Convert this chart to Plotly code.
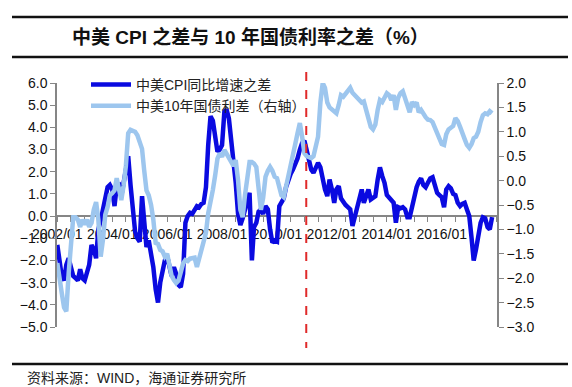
import pandas as pd
import plotly.graph_objects as go

# ---------------- data (monthly, 2002/01 - 2017/11) ----------------
start_month = "2002-01-01"

cpi_diff = (
    [-1.3, -2.0, -2.7, -2.9, -2.2, -1.9, -2.3, -2.7, -2.8, -2.9, -2.4, -2.8]      # 2002
    + [-2.9, -2.6, -2.2, -1.3, -1.5, -1.9, -0.6, -0.2, 0.3, 0.9, 1.3, 1.4]        # 2003
    + [1.2, 0.45, 1.35, 1.4, 0.9, 1.5, 2.25, 2.7, 1.4, 0.2, -0.7, -1.0]           # 2004
    + [-1.15, 0.9, -0.5, -1.4, -1.1, -1.6, -2.3, -3.3, -3.9, -3.0, -2.4, -2.0]    # 2005
    + [-1.8, -2.4, -2.7, -2.3, -2.6, -3.1, -3.2, -2.6, -0.3, 0.0, 0.15, 0.1]      # 2006
    + [0.3, 0.45, 0.4, 0.55, 0.6, 1.3, 3.2, 4.5, 4.3, 3.5, 2.9, 3.0]              # 2007
    + [3.2, 4.7, 4.8, 4.4, 3.5, 2.4, 1.5, 0.1, -0.4, -0.1, 0.3, 0.7]              # 2008
    + [1.05, -2.0, -0.5, -0.3, 0.2, 0.3, 0.1, 0.45, 0.3, -0.6, -1.2, -1.1]        # 2009
    + [-1.15, 0.45, 0.6, 0.8, 1.3, 1.7, 1.9, 2.1, 2.3, 2.6, 3.0, 3.3]             # 2010
    + [3.4, 2.9, 2.5, 2.1, 1.95, 2.2, 2.4, 2.2, 1.65, 1.2, 0.9, 1.65]             # 2011
    + [1.2, 0.6, 1.2, 1.35, 0.8, 0.6, 0.5, 0.4, 0.3, -0.45, 0.0, 0.45]           # 2012
    + [0.9, 1.2, 0.6, 1.0, 1.2, 0.75, 0.8, 0.9, 1.65, 2.2, 1.8, 1.5]              # 2013
    + [0.95, 0.85, 0.75, 0.6, -0.3, 0.4, 0.35, 0.4, 0.3, -0.05, -0.05, 0.4]       # 2014
    + [0.9, 1.3, 1.55, 1.7, 1.4, 1.3, 1.5, 1.7, 1.75, 1.35, 1.05, 0.95]           # 2015
    + [0.85, 0.4, 1.2, 1.35, 1.25, 1.0, 0.95, 0.6, 0.45, 0.55, 0.6, 0.3]          # 2016
    + [0.0, -1.0, -2.0, -1.5, -0.8, -0.3, -0.05, -0.1, -0.5, -0.6, -0.05]         # 2017
)

bond_diff = (
    [-1.69, -1.95, -2.3, -2.6, -2.68, -1.9, -1.2, -0.75, -0.75, -0.8, -0.95, -0.8]   # 2002
    + [-0.9, -0.8, -0.95, -0.87, -0.6, -0.44, -0.8, -1.56, -1.2, -0.7, -0.54, -0.3]  # 2003
    + [-0.26, -0.2, 0.05, -0.2, -0.4, -0.1, 0.3, 0.97, 1.04, 1.02, 1.0, 0.93]        # 2004
    + [0.8, 0.65, 0.22, -0.2, -0.3, -0.5, -0.8, -1.28, -1.3, -1.42, -1.45, -1.56]    # 2005
    + [-1.5, -1.77, -1.95, -2.04, -2.1, -2.05, -1.83, -1.7, -1.63, -1.65, -1.6, -1.58]  # 2006
    + [-1.58, -1.77, -1.6, -1.46, -1.2, -1.07, -0.67, -0.46, -0.19, 0.1, 0.45, 0.56]  # 2007
    + [0.49, 0.63, 0.55, 0.5, 0.42, 0.3, 0.42, 0.01, -0.6, -0.75, -0.3, 0.1]        # 2008
    + [0.38, 0.38, 0.35, 0.28, -0.1, -0.6, -0.35, 0.08, 0.2, 0.28, 0.2, 0.08]       # 2009
    + [0.05, -0.13, -0.3, -0.34, -0.13, 0.0, 0.22, 0.49, 0.75, 0.97, 1.18, 0.9]     # 2010
    + [0.56, 0.5, 0.48, 0.46, 0.5, 0.7, 0.9, 1.6, 2.0, 1.9, 1.6, 1.5]               # 2011
    + [1.45, 1.4, 1.38, 1.55, 1.75, 1.72, 1.78, 1.82, 1.9, 1.8, 1.75, 1.7]          # 2012
    + [1.65, 1.6, 1.62, 1.45, 1.3, 1.1, 1.05, 1.15, 1.45, 1.65, 1.61, 1.7]          # 2013
    + [1.79, 1.75, 1.65, 1.75, 1.45, 1.7, 1.79, 1.83, 1.7, 1.55, 1.4, 1.61]         # 2014
    + [1.55, 1.6, 1.4, 1.45, 1.35, 1.3, 1.25, 1.24, 1.2, 1.1, 0.97, 0.85]           # 2015
    + [0.75, 0.73, 0.95, 1.05, 1.1, 1.12, 1.28, 1.22, 1.1, 1.0, 0.85, 0.73]         # 2016
    + [0.67, 0.75, 0.87, 0.9, 1.0, 1.2, 1.34, 1.38, 1.36, 1.42, 1.38]               # 2017
)

series_names = ["中美CPI同比增速之差", "中美10年国债利差（右轴）"]
marker_date = "2011-01-25"
title_text = "中美 CPI 之差与 10 年国债利率之差（%）"
source_text = "资料来源：WIND，海通证券研究所"
x_tick_dates = pd.date_range("2002-01-01", "2016-01-01", freq="24MS")
x_tick_labels = [d.strftime("%Y/%m") for d in x_tick_dates]

dates = pd.date_range(start_month, periods=len(cpi_diff), freq="MS")
dates2 = pd.date_range(start_month, periods=len(bond_diff), freq="MS")

# ---------------- layout geometry (pixels) ----------------
W, H = 572, 387
PL, PR, PT, PB = 57, 497, 83, 327


def px_x(x):
    return (x - PL) / (PR - PL)


def px_y(y):
    return (PB - y) / (PB - PT)


FONT = "Liberation Sans, Arial, Noto Sans CJK SC, sans-serif"
DARK = "#0a0ae0"
LIGHT = "#9dc6ee"
AXIS = "#868686"

fig = go.Figure()
fig.add_trace(go.Scatter(x=dates, y=cpi_diff, name=series_names[0], mode="lines",
                         line=dict(color=DARK, width=4.5), yaxis="y"))
fig.add_trace(go.Scatter(x=dates2, y=bond_diff, name=series_names[1], mode="lines",
                         line=dict(color=LIGHT, width=4.5), yaxis="y2"))

fig.update_layout(
    width=W, height=H,
    margin=dict(l=PL, r=W - PR, t=PT, b=H - PB, pad=0),
    paper_bgcolor="white", plot_bgcolor="rgba(0,0,0,0)",
    font=dict(family=FONT, size=13, color="#111"),
    showlegend=True,
    legend=dict(x=px_x(86), y=px_y(69), xanchor="left", yanchor="top",
                bgcolor="rgba(0,0,0,0)", font=dict(size=14, color="#222"),
                tracegroupgap=0, itemwidth=40),
    xaxis=dict(type="date", range=["2001-12-28", "2018-01-05"],
               anchor="free", position=5 / 11,
               showline=True, linecolor=AXIS, linewidth=1.5,
               showgrid=False, zeroline=False,
               tickvals=x_tick_dates, ticktext=x_tick_labels,
               ticks="outside", ticklen=5, tickcolor=AXIS, tickwidth=1.2,
               minor=dict(dtick="M6", tick0="2002-01-01", ticks="outside",
                          ticklen=5, tickcolor=AXIS, tickwidth=1.2, showgrid=False),
               tickfont=dict(size=14, color="#111"), layer="below traces"),
    yaxis=dict(range=[-5, 6], dtick=1, tickformat=".1f",
               showline=True, linecolor=AXIS, linewidth=1.5,
               showgrid=False, zeroline=False,
               ticks="outside", ticklen=5, tickcolor=AXIS,
               tickfont=dict(size=14, color="#111")),
    yaxis2=dict(range=[-3, 2], dtick=0.5, tickformat=".1f", overlaying="y", side="right",
                showline=True, linecolor=AXIS, linewidth=1.5,
                showgrid=False, zeroline=False,
                ticks="outside", ticklen=5, tickcolor=AXIS,
                tickfont=dict(size=14, color="#111")),
)

# red dashed marker line
fig.add_shape(type="line", xref="x", yref="paper",
              x0=marker_date, x1=marker_date, y0=px_y(72), y1=px_y(348),
              line=dict(color="#e02a2a", width=2, dash="dash"))

# frame lines
for yy in (17, 57, 364):
    fig.add_shape(type="line", xref="paper", yref="paper",
                  x0=px_x(12), x1=px_x(568), y0=px_y(yy), y1=px_y(yy),
                  line=dict(color="#111", width=2.5))

fig.add_annotation(text="<b>" + title_text + "</b>", xref="paper", yref="paper",
                   x=px_x(70), y=px_y(37), xanchor="left", yanchor="middle",
                   showarrow=False, font=dict(size=19, color="#111", family=FONT))
fig.add_annotation(text=source_text, xref="paper", yref="paper",
                   x=px_x(25), y=px_y(378), xanchor="left", yanchor="middle",
                   showarrow=False, font=dict(size=14, color="#222", family=FONT))

fig.write_html(
    "out.html",
    config={"displayModeBar": False},
    post_script="document.body.style.margin='0px';document.body.style.overflow='hidden';",
)
